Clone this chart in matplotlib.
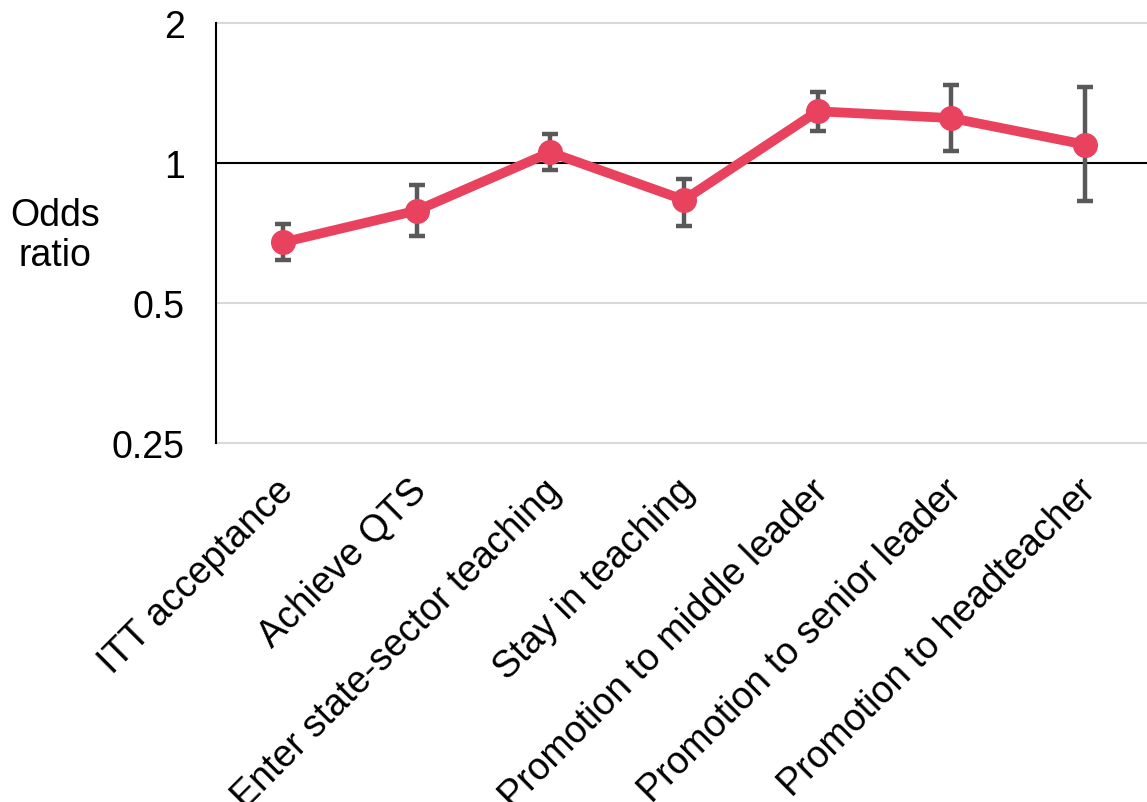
import matplotlib.pyplot as plt
from matplotlib.ticker import FixedLocator, NullLocator
from matplotlib.transforms import ScaledTranslation

plt.rcParams['font.family'] = ['Liberation Sans', 'DejaVu Sans']

# Odds ratios with 95% confidence intervals for each career stage
stages = [
    "ITT acceptance",
    "Achieve QTS",
    "Enter state-sector teaching",
    "Stay in teaching",
    "Promotion to middle leader",
    "Promotion to senior leader",
    "Promotion to headteacher",
]
odds = [0.675, 0.790, 1.054, 0.833, 1.292, 1.249, 1.095]
ci_low = [0.619, 0.698, 0.967, 0.733, 1.173, 1.063, 0.827]
ci_high = [0.739, 0.897, 1.154, 0.924, 1.423, 1.471, 1.455]

yticks = [0.25, 0.5, 1, 2]
ytick_labels = ["0.25", "0.5", "1", "2"]

FS = 27

W, H = 1147, 803
fig = plt.figure(figsize=(W / 100, H / 100), dpi=100)
left, right, top, bottom = 216, 1152, 24, 444
ax = fig.add_axes([left / W, 1 - bottom / H, (right - left) / W, (bottom - top) / H])

x = list(range(len(stages)))
yerr = [[o - lo for o, lo in zip(odds, ci_low)], [hi - o for o, hi in zip(odds, ci_high)]]

ax.set_yscale('log', base=2)
ax.set_ylim(0.25, 2)
ax.set_xlim(-0.5, len(stages) - 0.5)

# gridlines and the reference line at 1
for v in [0.25, 0.5, 2]:
    ax.axhline(v, color='#d9d9d9', lw=1.5, zorder=0, clip_on=False)
ax.axhline(1, color='black', lw=1.5, zorder=1)

ax.errorbar(x, odds, yerr=yerr, fmt='none', ecolor='#595959', elinewidth=3.2,
            capsize=6, capthick=3.2, zorder=2)
ax.plot(x, odds, color='#e8425e', lw=7, marker='o', markersize=17,
        solid_joinstyle='round', zorder=3)

ax.yaxis.set_major_locator(FixedLocator(yticks))
ax.yaxis.set_minor_locator(NullLocator())
ax.set_yticklabels(ytick_labels, fontsize=FS)
ax.tick_params(axis='y', length=0, pad=22.5)

ax.set_xticks(x)
ax.set_xticklabels(stages, rotation=45, ha='right', rotation_mode='anchor', fontsize=FS)
ax.tick_params(axis='x', length=0, pad=21)
shift = ScaledTranslation(-8 / 100, 0, fig.dpi_scale_trans)
for lab in ax.get_xticklabels():
    lab.set_transform(lab.get_transform() + shift)

for s in ['top', 'right', 'bottom']:
    ax.spines[s].set_visible(False)
ax.spines['left'].set_linewidth(1.5)
ax.spines['left'].set_color('black')

fig.text(55 / W, 1 - 236 / H, "Odds\nratio", ha='center', va='center',
         fontsize=FS, linespacing=1.15)

fig.savefig("out.png", dpi=100)
